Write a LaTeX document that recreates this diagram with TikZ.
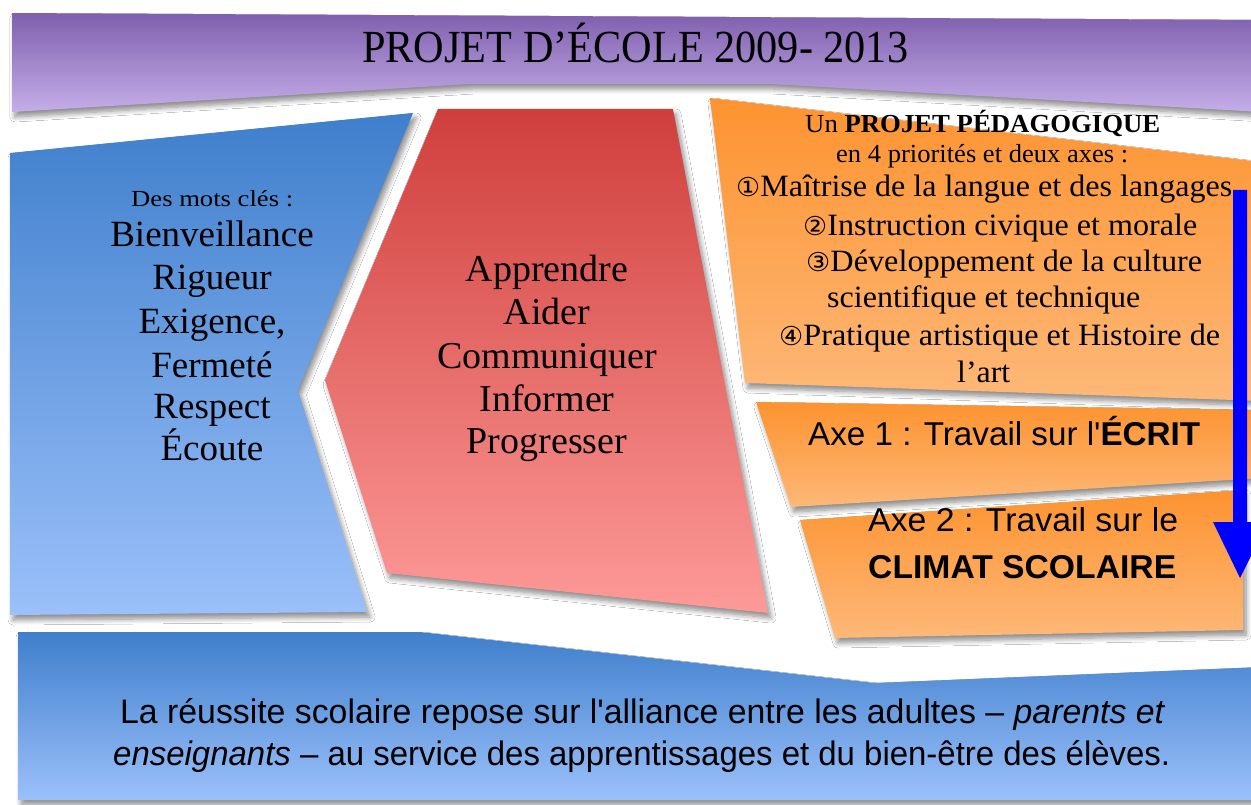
\documentclass[tikz,border=0pt]{standalone}
\usepackage{fontspec}
\setmainfont{Liberation Serif}
\newfontfamily\comic{Liberation Sans}
\newfontfamily\dv{DejaVu Sans}
\usepackage{graphicx}
\usetikzlibrary{shadows,shadows.blur}
\definecolor{purT}{HTML}{7F5FAE}
\definecolor{purB}{HTML}{C4AEE8}
\definecolor{bluT}{HTML}{3F7FCC}
\definecolor{bluB}{HTML}{9BC0FA}
\definecolor{redT}{HTML}{CF3F3C}
\definecolor{redB}{HTML}{FD9A98}
\definecolor{orT}{HTML}{FD9330}
\definecolor{orB}{HTML}{FDB878}
\definecolor{arrowblue}{HTML}{0000FF}
\newcommand\fitw[2]{\resizebox{#1}{\height}{#2}}
\tikzset{
  panel/.style={blur shadow={shadow xshift=3pt,shadow yshift=-5pt,shadow blur radius=5pt,shadow blur steps=8,shadow opacity=45}},
  txt/.style={inner sep=0pt, anchor=base west},
  ctxt/.style={inner sep=0pt, anchor=base},
}
\begin{document}
\begin{tikzpicture}[x=1pt,y=-1pt]
\useasboundingbox (0,0) rectangle (1251,805);
\fill[white] (0,0) rectangle (1251,805);
% title band
\path[panel, top color=purT, bottom color=purB]
  (12,13) -- (1262,20) -- (1262,112) -- (770,84) -- (470,84) -- (12,112) -- cycle;
% blue left
\path[panel, top color=bluT, bottom color=bluB]
  (10,153) -- (413,113) -- (298,390) -- (367,612) -- (10,615) -- cycle;
% red middle
\path[panel, top color=redT, bottom color=redB]
  (438,109) -- (673,109) -- (768,613) -- (387,573) -- (325,380) -- cycle;
% orange top
\path[panel, top color=orT, bottom color=orB]
  (710,98) -- (1262,162) -- (1262,401) -- (745,383) -- cycle;
% axe 1
\path[panel, top color=orT, bottom color=orB]
  (756,402) -- (1262,410) -- (1262,478) -- (791,507) -- cycle;
% axe 2
\path[panel, top color=orT, bottom color=orB]
  (800,520) -- (1243,490) -- (1243,630) -- (835,638) -- cycle;
% bottom
\path[panel, top color=bluT, bottom color=bluB]
  (18,632) -- (420,632) -- (875,683) -- (1262,667) -- (1262,800) -- (18,800) -- cycle;
% arrow
\fill[arrowblue] (1233,190) -- (1247,190) -- (1247,522) -- (1268,522) -- (1240,578)
  -- (1213,522) -- (1233,522) -- cycle;

% title
\node[txt] (title) at (362,63) {\fontsize{46}{50}\selectfont\fitw{546pt}{PROJET D’ÉCOLE 2009- 2013}};

% blue texts
\node[txt] (kw) at (131,207) {\fontsize{23}{26}\selectfont\fitw{162pt}{Des mots clés :}};
\begin{scope}[every node/.style={ctxt,font=\fontsize{37}{43}\selectfont}]
\node (b1) at (212,247) {Bienveillance};
\node (b2) at (212,290) {Rigueur};
\node (b3) at (212,333) {Exigence,};
\node (b4) at (212,377) {Fermeté};
\node (b5) at (212,418) {Respect};
\node (b6) at (212,460) {Écoute};
\end{scope}
% red texts
\begin{scope}[every node/.style={ctxt,font=\fontsize{38}{43}\selectfont}]
\node (r1) at (547,282) {Apprendre};
\node (r2) at (547,324) {Aider};
\node (r3) at (547,368) {Communiquer};
\node (r4) at (547,411) {Informer};
\node (r5) at (547,453) {Progresser};
\end{scope}

% orange texts
\begin{scope}[every node/.style={txt,font=\fontsize{26}{30}\selectfont}]
\node (o1) at (805,133) {\fitw{355pt}{Un \textbf{PROJET PÉDAGOGIQUE}}};
\node (o2) at (836,163) {\fitw{292pt}{en 4 priorités et deux axes :}};
\end{scope}
\begin{scope}[every node/.style={txt,font=\fontsize{31}{36}\selectfont}]
\node (p1) at (736,197) {\fitw{496pt}{{\dv\fontsize{26}{30}\selectfont①}Maîtrise de la langue et des langages}};
\node (p2) at (803,236) {\fitw{394pt}{{\dv\fontsize{26}{30}\selectfont②}Instruction civique et morale}};
\node (p3) at (806,272) {\fitw{396pt}{{\dv\fontsize{26}{30}\selectfont③}Développement de la culture}};
\node (p4) at (827,308) {\fitw{313pt}{scientifique et technique}};
\node (p5) at (779,345) {\fitw{441pt}{{\dv\fontsize{26}{30}\selectfont④}Pratique artistique et Histoire de}};
\node (p6) at (957,382) {\fitw{53pt}{l’art}};
\end{scope}

% axes
\begin{scope}[every node/.style={txt,font=\comic\fontsize{33}{36}\selectfont}]
\node (a1) at (808,445) {\fitw{392pt}{Axe 1 : Travail sur l'\textbf{ÉCRIT}}};
\node (a2) at (868,531) {\fitw{310pt}{Axe 2 : Travail sur le}};
\node (a3) at (868,578) {\fitw{308pt}{\textbf{CLIMAT SCOLAIRE}}};
\end{scope}

% bottom
\begin{scope}[every node/.style={txt,font=\comic\fontsize{34}{36}\selectfont}]
\node (l1) at (120,723) {\fitw{1045pt}{La réussite scolaire repose sur l'alliance entre les adultes – \textit{parents et}}};
\node (l2) at (113,765) {\fitw{1057pt}{\textit{enseignants} – au service des apprentissages et du bien-être des élèves.}};
\end{scope}
\end{tikzpicture}
\end{document}
